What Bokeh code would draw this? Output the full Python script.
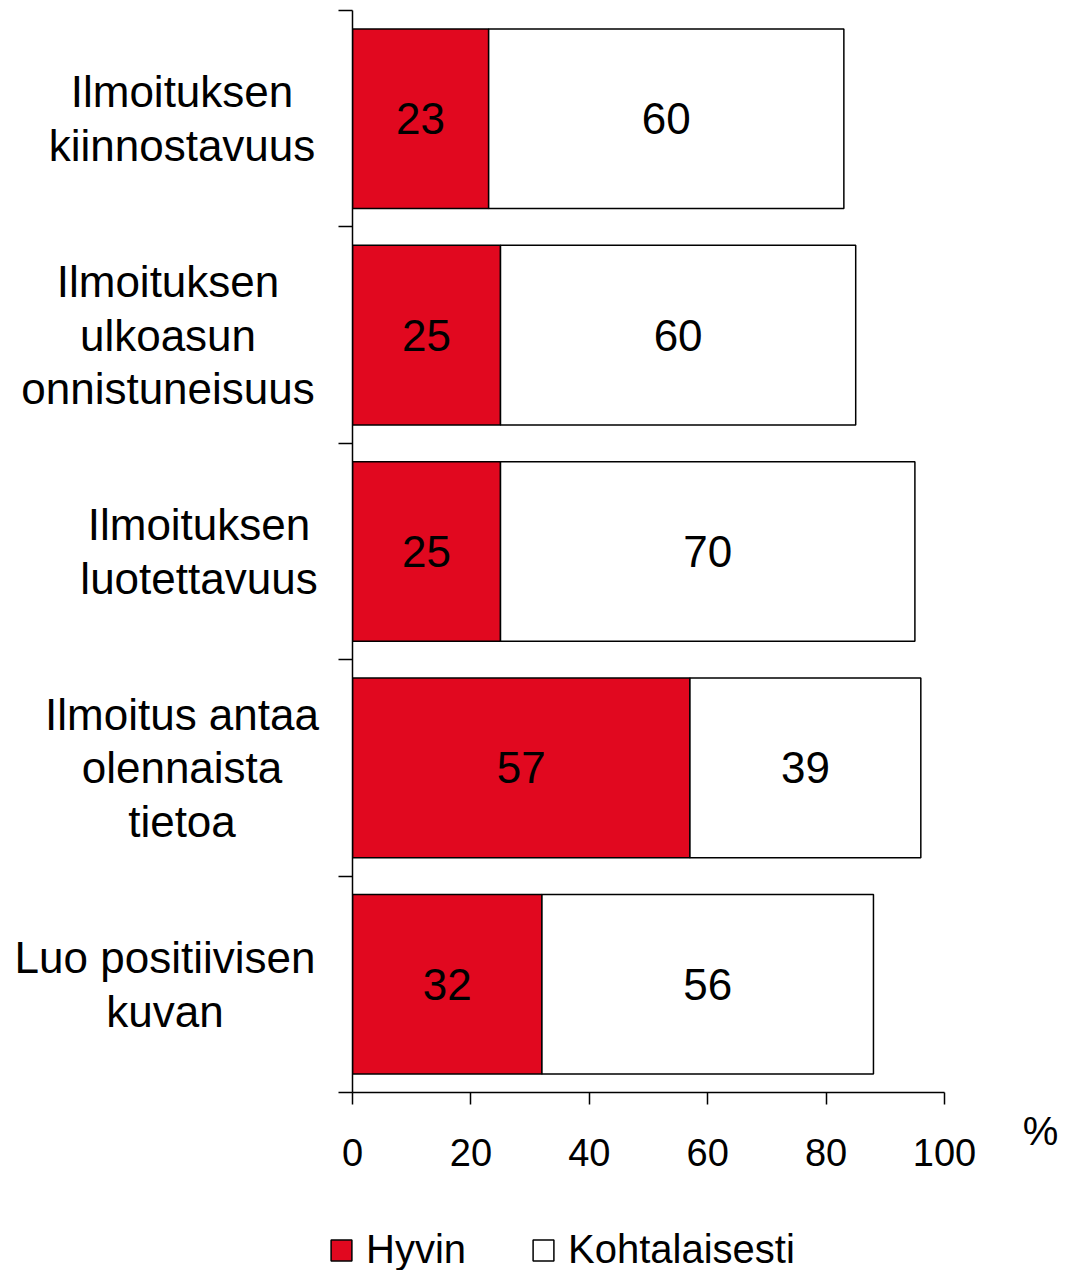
from bokeh.plotting import figure
from bokeh.models import Range1d, FixedTicker, Legend, LegendItem, ColumnDataSource
from bokeh.layouts import row, column
from bokeh.core.properties import value
from bokeh.embed import file_html
from bokeh.resources import INLINE

categories = ["Ilmoituksen\nkiinnostavuus",
              "Ilmoituksen\nulkoasun\nonnistuneisuus",
              "Ilmoituksen\nluotettavuus",
              "Ilmoitus antaa\nolennaista\ntietoa",
              "Luo positiivisen\nkuvan"]
hyvin = [23, 25, 25, 57, 32]
kohtalaisesti = [60, 60, 70, 39, 56]
x_ticks = [0, 20, 40, 60, 80, 100]
series_names = ["Hyvin", "Kohtalaisesti"]
unit_label = "%"

# layout helpers (pixel positions of the category label blocks' centres)
label_centers = [181.5, 167.5, 198.5, 181.5, 164.5]

FONT = "Liberation Sans"
RED = "#E1081F"
MAIN_H = 1186
TOP = 10
BOTTOM = 94

n = len(categories)
ys = [n - i - 0.5 for i in range(n)]
y_range = Range1d(0, n)

src = ColumnDataSource(dict(
    y=ys,
    h_end=hyvin,
    k_end=[a + b for a, b in zip(hyvin, kohtalaisesti)],
    h_mid=[a / 2 for a in hyvin],
    k_mid=[a + b / 2 for a, b in zip(hyvin, kohtalaisesti)],
    h_txt=[str(v) for v in hyvin],
    k_txt=[str(v) for v in kohtalaisesti],
    lab=categories,
    lab_x=label_centers,
))

# ---- category labels (left) ----
pl = figure(width=338, height=MAIN_H, output_backend="svg", toolbar_location=None,
            x_range=Range1d(0, 338), y_range=y_range,
            x_axis_location=None, y_axis_location=None,
            min_border_left=0, min_border_right=0, min_border_top=TOP, min_border_bottom=BOTTOM)
pl.outline_line_color = None
pl.grid.visible = False
pl.text(x="lab_x", y="y", text="lab", source=src, text_align="center", text_baseline="middle",
        text_font=value(FONT), text_font_size="44px", text_color="black", text_line_height=1.1)

# ---- main chart ----
p = figure(width=652, height=MAIN_H, output_backend="svg", toolbar_location=None,
           x_range=Range1d(0, 100), y_range=y_range,
           min_border_left=14, min_border_right=46, min_border_top=TOP, min_border_bottom=BOTTOM)
p.outline_line_color = None
p.grid.visible = False

r1 = p.hbar(y="y", left=0, right="h_end", height=0.83, source=src,
            fill_color=RED, line_color="black", line_width=1.5)
r2 = p.hbar(y="y", left="h_end", right="k_end", height=0.83, source=src,
            fill_color="white", line_color="black", line_width=1.5)

p.text(x="h_mid", y="y", text="h_txt", source=src, text_align="center", text_baseline="middle",
       text_font=value(FONT), text_font_size="44px", text_color="black")
p.text(x="k_mid", y="y", text="k_txt", source=src, text_align="center", text_baseline="middle",
       text_font=value(FONT), text_font_size="44px", text_color="black")

xa = p.xaxis[0]
xa.ticker = FixedTicker(ticks=x_ticks)
xa.minor_tick_line_color = None
xa.major_tick_in = 0
xa.major_tick_out = 12
xa.major_tick_line_width = 1.5
xa.axis_line_width = 1.5
xa.major_label_text_font = FONT
xa.major_label_text_font_size = "38px"
xa.major_label_text_color = "black"
xa.major_label_standoff = 34

ya = p.yaxis[0]
ya.ticker = FixedTicker(ticks=[], minor_ticks=list(range(n + 1)))
ya.major_tick_in = 0
ya.major_tick_out = 0
ya.minor_tick_in = 0
ya.minor_tick_out = 14
ya.minor_tick_line_width = 1.5
ya.minor_tick_line_color = "black"
ya.axis_line_width = 1.5
ya.major_label_standoff = 0

# ---- unit label (right), drawn as the tick label of a bare axis ----
pr = figure(width=71, height=MAIN_H, output_backend="svg", toolbar_location=None,
            x_range=Range1d(0, 71), y_range=Range1d(0, 1),
            y_axis_location=None,
            min_border_left=0, min_border_right=0, min_border_top=TOP, min_border_bottom=BOTTOM)
pr.outline_line_color = None
pr.grid.visible = False
ua = pr.xaxis[0]
ua.ticker = FixedTicker(ticks=[50], minor_ticks=[])
ua.major_label_overrides = {50: unit_label}
ua.axis_line_color = None
ua.major_tick_line_color = None
ua.minor_tick_line_color = None
ua.major_tick_in = 0
ua.major_tick_out = 0
ua.major_label_standoff = 16
ua.major_label_text_font = FONT
ua.major_label_text_font_size = "40px"
ua.major_label_text_color = "black"

# ---- legend (bottom) ----
pg = figure(width=1061, height=84, output_backend="svg", toolbar_location=None,
            x_range=Range1d(0, 100), y_range=Range1d(0, n),
            x_axis_location=None, y_axis_location=None, min_border=0)
pg.outline_line_color = None
pg.grid.visible = False
# hidden copies of the series renderers, used only for the legend swatches
g1 = pg.hbar(y="y", left=0, right="h_end", height=0.83, source=src,
             fill_color=RED, line_color="black", line_width=1.5, visible=False)
g2 = pg.hbar(y="y", left="h_end", right="k_end", height=0.83, source=src,
             fill_color="white", line_color="black", line_width=1.5, visible=False)
legend = Legend(items=[LegendItem(label=series_names[0], renderers=[g1]),
                       LegendItem(label=series_names[1], renderers=[g2])],
                orientation="horizontal", location=(328, -2),
                glyph_width=26, glyph_height=26, label_standoff=12, spacing=64,
                label_text_font=FONT, label_text_font_size="40px", label_text_color="black",
                border_line_color=None, background_fill_alpha=0, padding=0, margin=0)
pg.add_layout(legend, "center")

layout = column(row(pl, p, pr), pg)
open("out.html", "w").write(file_html(layout, INLINE))
